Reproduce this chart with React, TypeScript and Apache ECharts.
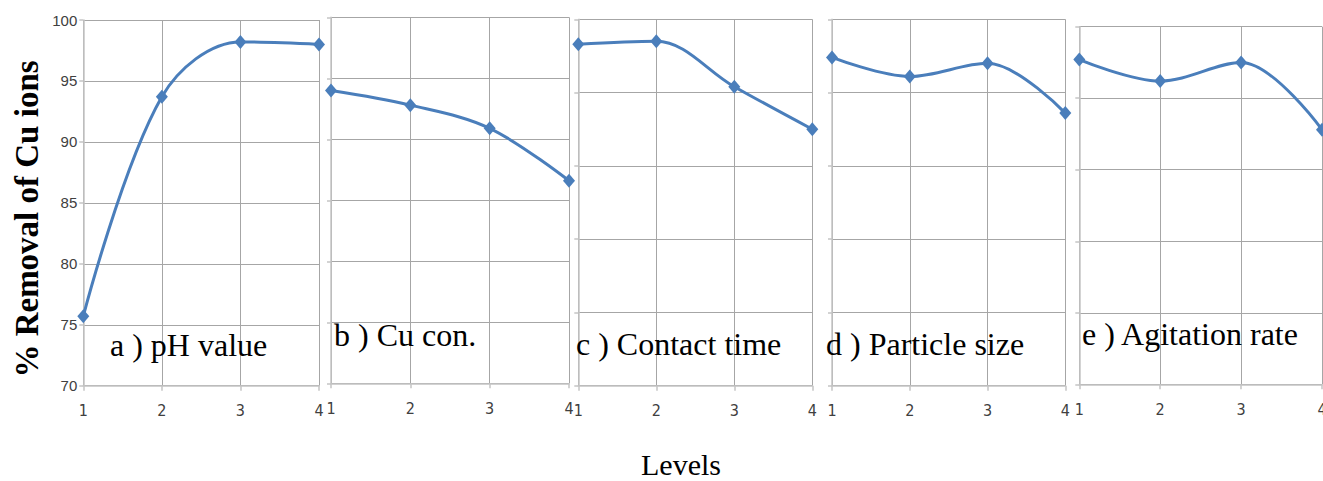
import React, { useEffect, useRef } from "react";
import * as echarts from "echarts";

const levels = [1, 2, 3, 4];
const phValue = [75.7, 93.7, 98.2, 98.0];
const cuCon = [94.0, 92.8, 90.9, 86.6];
const contactTime = [98.3, 98.5, 95.4, 92.5];
const particleSize = [97.4, 96.1, 97.0, 93.6];
const agitationRate = [97.7, 96.2, 97.5, 92.8];

const panelLabels = ["a ) pH value", "b ) Cu con.", "c ) Contact time", "d ) Particle size", "e ) Agitation rate"];
const yTitle = "% Removal of Cu ions";
const xTitle = "Levels";

const seriesValues = [phValue, cuCon, contactTime, particleSize, agitationRate];
const yMins = [70, 70, 75, 75, 75];

// layout (pixels)
const grids = [
  { left: 83.3, top: 20, width: 235.7, height: 365.7 },
  { left: 331, top: 17.3, width: 238, height: 366 },
  { left: 578.3, top: 19.3, width: 234, height: 366.4 },
  { left: 832, top: 19.3, width: 233.3, height: 366.4 },
  { left: 1079.3, top: 26.7, width: 242.7, height: 357.6 },
];
const labelPos = [
  [110, 345],
  [334, 335],
  [576, 344],
  [826, 344],
  [1082, 334],
];

const LINE = "#4a7ebb";
const GRID = "#a6a6a6";
const AXIS = "#c4c4c4";

export default function App() {
  const ref = useRef<HTMLDivElement>(null);
  useEffect(() => {
    if (!ref.current) return;
    const chart = echarts.init(ref.current, null, { renderer: "svg" });
    const option: any = {
      animation: false,
      backgroundColor: "#ffffff",
      grid: grids.map((g) => ({ ...g, containLabel: false, outerBoundsMode: "none" })),
      xAxis: grids.map((_, i) => ({
        type: "value",
        gridIndex: i,
        min: 1,
        max: 4,
        interval: 1,
        axisLine: { show: true, onZero: false, lineStyle: { color: AXIS, width: 1.5 } },
        axisTick: { show: true, length: 5, lineStyle: { color: AXIS, width: 1.5 } },
        axisLabel: {
          show: true,
          margin: 17,
          color: "#404040",
          fontFamily: "'Liberation Sans Narrow', 'DejaVu Sans Condensed', sans-serif",
          fontSize: 16,
        },
        splitLine: { show: true, lineStyle: { color: GRID, width: 1 } },
      })),
      yAxis: grids.map((_, i) => ({
        type: "value",
        gridIndex: i,
        min: yMins[i],
        max: 100,
        interval: 5,
        axisLine: { show: true, lineStyle: { color: AXIS, width: 1.5 } },
        axisTick: { show: true, length: 4, lineStyle: { color: AXIS, width: 1.5 } },
        axisLabel: {
          show: i === 0,
          margin: 6,
          color: "#404040",
          fontFamily: "'Liberation Sans', sans-serif",
          fontSize: 15,
        },
        splitLine: { show: true, lineStyle: { color: GRID, width: 1 } },
      })),
      series: seriesValues.map((vals, i) => ({
        type: "line",
        xAxisIndex: i,
        yAxisIndex: i,
        data: levels.map((x, k) => [x, vals[k]]),
        smooth: 0.35,
        symbol: "diamond",
        symbolSize: [12, 14],
        lineStyle: { color: LINE, width: 3 },
        itemStyle: { color: LINE },
        clip: false,
      })),
      graphic: [
        ...panelLabels.map((t, i) => ({
          type: "text",
          x: labelPos[i][0],
          y: labelPos[i][1],
          style: {
            text: t,
            fill: "#000",
            font: "32px 'Liberation Serif', 'Times New Roman', serif",
            textAlign: "left",
            textVerticalAlign: "middle",
          },
          z: 100,
        })),
        {
          type: "text",
          x: 27,
          y: 219,
          rotation: Math.PI / 2,
          style: {
            text: yTitle,
            fill: "#000",
            font: "bold 33px 'Liberation Serif', 'Times New Roman', serif",
            textAlign: "center",
            textVerticalAlign: "middle",
          },
        },
        {
          type: "text",
          x: 681,
          y: 464,
          style: {
            text: xTitle,
            fill: "#000",
            font: "30px 'Liberation Serif', 'Times New Roman', serif",
            textAlign: "center",
            textVerticalAlign: "middle",
          },
        },
      ],
    };
    chart.setOption(option);
    return () => chart.dispose();
  }, []);
  return (
    <div
      ref={ref}
      style={{ position: "absolute", left: 0, top: 0, width: 1323, height: 481 }}
    />
  );
}
